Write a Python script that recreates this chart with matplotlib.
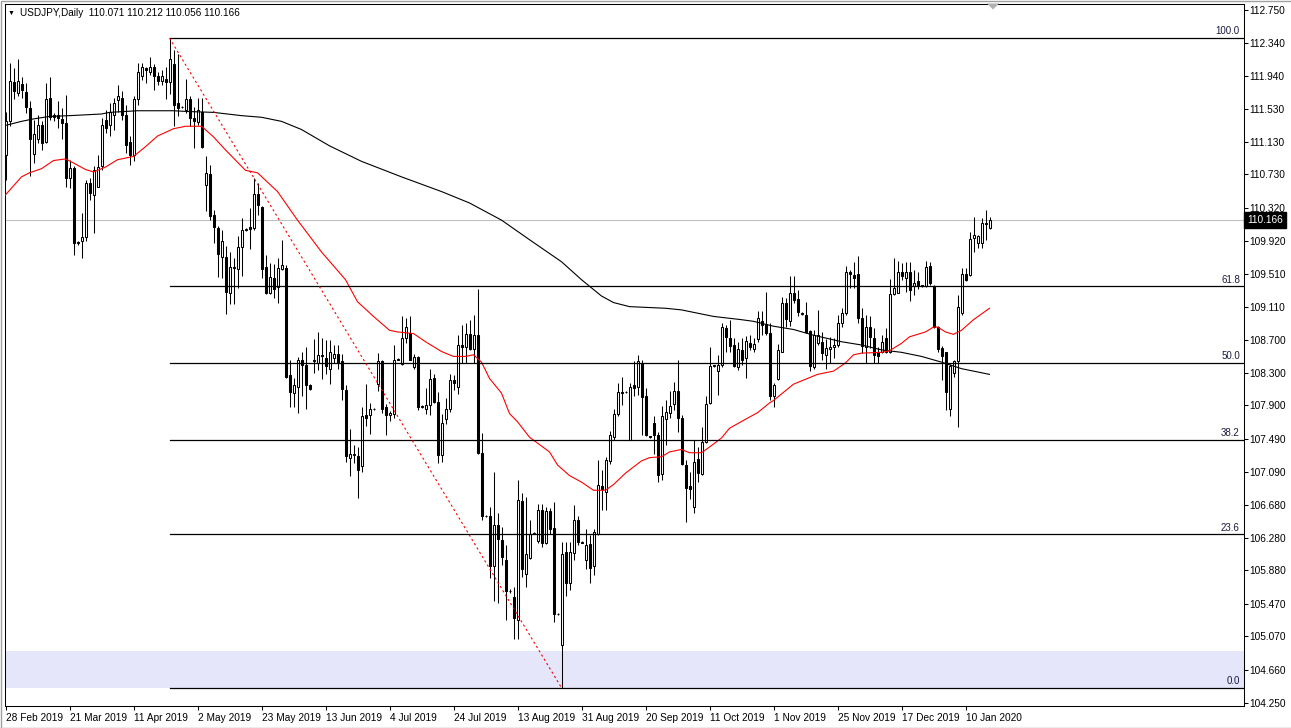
"""USDJPY daily candlestick chart, MT4 style, with fib retracement and two MAs."""
import matplotlib
matplotlib.use("Agg")
import matplotlib.pyplot as plt
import matplotlib.transforms as mtransforms
from matplotlib.patches import Polygon, Rectangle
import numpy as np

# ── Data ──────────────────────────────────────────────────────────
opens = [
    110.97, 111.38, 111.86, 111.73, 111.84, 111.74, 111.54, 110.98, 111.16, 111.33,
    111.13, 111.67, 111.46, 111.46, 111.41, 111.36, 110.69, 110.81, 109.89, 109.91,
    109.96, 110.62, 110.48, 110.58, 110.83, 111.40, 111.33, 111.46, 111.64, 111.67,
    111.46, 111.13, 110.97, 111.65, 111.94, 112.03, 111.99, 112.05, 111.94, 111.87,
    111.90, 111.86, 112.08, 111.60, 111.55, 111.52, 111.65, 111.42, 111.37, 111.50,
    110.60, 110.73, 110.23, 110.07, 109.72, 109.72, 109.28, 109.60, 109.57, 109.84,
    110.05, 110.09, 110.07, 110.49, 110.33, 109.59, 109.28, 109.46, 109.35, 109.57,
    109.58, 108.27, 108.05, 108.13, 108.45, 108.39, 108.15, 108.46, 108.42, 108.52,
    108.48, 108.34, 108.48, 108.53, 108.44, 108.09, 107.26, 107.29, 107.28, 107.16,
    107.78, 107.78, 107.85, 108.16, 108.44, 107.88, 107.78, 107.80, 108.46, 108.41,
    108.72, 108.79, 108.37, 108.49, 107.88, 107.86, 107.90, 108.23, 107.94, 107.29,
    107.73, 107.85, 108.21, 108.12, 108.64, 108.62, 108.78, 108.59, 108.76, 107.32,
    106.54, 106.54, 105.93, 106.44, 106.25, 106.00, 105.62, 105.55, 105.27, 106.73,
    105.84, 106.03, 106.33, 106.24, 106.62, 106.21, 106.61, 106.40, 105.35, 104.97,
    106.10, 105.72, 106.09, 106.50, 106.23, 106.01, 106.20, 105.93, 106.32, 106.91,
    106.84, 107.22, 107.51, 107.79, 108.07, 108.06, 107.47, 108.15, 108.13, 108.42,
    108.01, 107.52, 107.69, 107.54, 107.06, 107.73, 107.81, 107.92, 108.08, 107.74,
    107.17, 106.91, 106.65, 107.24, 107.06, 107.45, 107.93, 108.38, 108.32, 108.39,
    108.85, 108.73, 108.64, 108.37, 108.58, 108.48, 108.67, 108.59, 108.71, 108.94,
    108.90, 108.79, 108.01, 108.22, 108.56, 109.16, 108.94, 109.28, 109.20, 109.03,
    109.01, 108.81, 108.37, 108.67, 108.68, 108.52, 108.59, 108.62, 108.64, 108.91,
    109.03, 109.53, 109.50, 109.51, 108.97, 108.62, 108.86, 108.73, 108.55, 108.56,
    108.72, 108.56, 109.27, 109.28, 109.53, 109.46, 109.54, 109.36, 109.42, 109.36,
    109.36, 109.61, 109.36, 108.86, 108.60, 108.55, 107.85, 108.30, 108.44, 109.03,
    109.51, 109.50, 109.95, 109.89, 109.89, 110.13, 110.071,
]
highs = [
    111.50, 112.09, 112.03, 112.15, 111.92, 111.85, 111.63, 111.40, 111.46, 111.38,
    111.85, 111.92, 111.48, 111.63, 111.54, 111.70, 110.91, 110.83, 109.92, 110.26,
    110.66, 110.69, 110.83, 110.97, 111.42, 111.52, 111.61, 111.67, 111.83, 111.75,
    111.58, 111.20, 111.69, 112.10, 112.10, 112.05, 112.17, 112.08, 111.99, 112.01,
    112.04, 112.40, 112.26, 112.20, 111.57, 111.90, 111.69, 111.56, 111.67, 111.67,
    110.96, 110.85, 110.30, 110.10, 110.05, 109.85, 109.78, 109.70, 109.98, 110.19,
    110.07, 110.32, 110.69, 110.62, 110.34, 109.74, 109.64, 109.63, 109.70, 109.93,
    109.62, 108.45, 108.24, 108.49, 108.56, 108.62, 108.16, 108.71, 108.80, 108.72,
    108.70, 108.70, 108.64, 108.64, 108.53, 108.15, 107.61, 107.41, 107.39, 107.88,
    108.16, 107.93, 107.87, 108.54, 108.45, 107.92, 107.83, 108.64, 108.48, 109.00,
    108.97, 109.00, 108.53, 108.50, 107.90, 108.11, 108.35, 108.28, 108.07, 107.80,
    107.99, 108.28, 108.27, 108.76, 108.89, 108.91, 108.95, 109.01, 109.32, 107.56,
    106.56, 106.66, 107.09, 106.58, 106.41, 106.19, 105.65, 105.68, 106.98, 106.83,
    106.78, 106.49, 106.35, 106.69, 106.69, 106.66, 106.64, 106.72, 105.36, 106.23,
    106.23, 106.23, 106.68, 106.54, 106.24, 106.39, 106.31, 106.39, 107.23, 107.11,
    107.27, 107.59, 107.85, 108.18, 108.25, 108.08, 108.17, 108.44, 108.52, 108.46,
    108.11, 107.53, 107.77, 107.58, 107.89, 107.96, 108.08, 108.19, 108.46, 107.78,
    107.23, 107.09, 107.47, 107.39, 107.64, 108.01, 108.62, 108.40, 108.52, 108.91,
    108.89, 108.95, 108.72, 108.68, 108.72, 108.75, 108.76, 108.72, 109.06, 109.06,
    109.29, 108.91, 108.17, 108.65, 109.23, 109.21, 109.49, 109.49, 109.31, 109.04,
    109.17, 108.82, 108.82, 109.07, 108.80, 108.71, 108.74, 108.73, 109.01, 109.09,
    109.61, 109.56, 109.66, 109.73, 109.09, 109.01, 108.99, 108.85, 108.62, 108.76,
    108.85, 109.45, 109.70, 109.67, 109.64, 109.66, 109.66, 109.56, 109.53, 109.38,
    109.67, 109.66, 109.37, 108.87, 108.63, 108.56, 108.41, 108.46, 109.25, 109.58,
    109.58, 110.02, 110.21, 109.99, 110.19, 110.30, 110.212,
]
lows = [
    110.66, 111.32, 111.65, 111.69, 111.67, 111.48, 110.71, 110.87, 111.11, 111.03,
    111.11, 111.40, 111.38, 111.30, 111.16, 110.58, 110.56, 109.74, 109.87, 109.70,
    109.91, 110.42, 110.01, 110.57, 110.79, 111.24, 111.20, 111.28, 111.50, 111.40,
    110.99, 110.85, 110.89, 111.58, 111.89, 111.85, 111.95, 111.76, 111.83, 111.83,
    111.65, 111.71, 111.32, 111.44, 111.54, 111.48, 111.32, 111.05, 111.34, 111.05,
    110.28, 110.17, 109.89, 109.47, 109.46, 109.02, 109.14, 109.14, 109.34, 109.49,
    110.04, 109.81, 110.05, 110.23, 109.46, 109.27, 109.27, 109.21, 109.15, 109.56,
    108.23, 107.88, 107.88, 107.81, 108.01, 107.86, 108.09, 108.30, 108.33, 108.22,
    108.28, 108.16, 108.42, 108.34, 107.96, 107.21, 107.03, 107.20, 106.77, 107.09,
    107.65, 107.55, 107.84, 108.08, 107.81, 107.54, 107.71, 107.75, 108.45, 108.39,
    108.66, 108.46, 108.34, 107.84, 107.87, 107.80, 107.78, 107.93, 107.20, 107.21,
    107.67, 107.82, 108.09, 108.04, 108.42, 108.42, 108.58, 108.42, 107.31, 106.50,
    106.53, 105.78, 105.50, 105.48, 105.94, 105.27, 105.60, 105.04, 105.04, 105.80,
    105.68, 106.02, 106.32, 106.21, 106.16, 106.20, 106.33, 105.25, 105.33, 104.44,
    105.57, 105.64, 106.00, 106.19, 106.21, 105.89, 105.72, 105.82, 106.31, 106.62,
    106.62, 107.18, 107.48, 107.77, 107.90, 108.05, 107.47, 108.01, 108.03, 107.54,
    107.52, 107.50, 107.31, 106.96, 106.98, 107.41, 107.74, 107.84, 107.58, 107.17,
    106.47, 106.75, 106.58, 106.96, 107.05, 107.44, 107.92, 108.37, 108.03, 108.37,
    108.56, 108.56, 108.37, 108.33, 108.39, 108.24, 108.58, 108.56, 108.68, 108.76,
    108.76, 107.96, 107.88, 108.21, 108.55, 108.86, 108.87, 109.15, 108.99, 109.01,
    108.79, 108.32, 108.34, 108.64, 108.46, 108.35, 108.42, 108.48, 108.62, 108.86,
    109.01, 109.34, 109.34, 108.91, 108.54, 108.42, 108.60, 108.42, 108.42, 108.54,
    108.54, 108.54, 109.25, 109.28, 109.44, 109.29, 109.18, 109.25, 109.32, 109.35,
    109.35, 109.38, 108.85, 108.55, 108.21, 107.84, 107.77, 108.25, 107.64, 109.01,
    109.42, 109.48, 109.78, 109.83, 109.83, 109.93, 110.056,
]
closes = [
    111.38, 111.87, 111.75, 111.87, 111.77, 111.56, 111.16, 111.22, 111.33, 111.11,
    111.65, 111.43, 111.43, 111.42, 111.36, 110.69, 110.81, 109.89, 109.90, 109.96,
    110.62, 110.50, 110.79, 110.82, 111.34, 111.30, 111.49, 111.61, 111.69, 111.46,
    111.09, 110.97, 111.65, 111.99, 112.04, 112.01, 112.04, 111.93, 111.88, 111.94,
    111.86, 112.15, 111.58, 111.54, 111.56, 111.65, 111.42, 111.38, 111.52, 111.07,
    110.75, 110.22, 110.09, 109.76, 109.91, 109.29, 109.60, 109.58, 109.84, 110.05,
    110.06, 110.06, 110.49, 110.35, 109.57, 109.28, 109.47, 109.32, 109.58, 109.62,
    108.25, 108.06, 108.15, 108.46, 108.39, 108.15, 108.10, 108.44, 108.52, 108.50,
    108.38, 108.56, 108.53, 108.42, 108.10, 107.28, 107.30, 107.30, 107.11, 107.77,
    107.75, 107.85, 107.86, 108.44, 107.85, 107.78, 107.81, 108.46, 108.47, 108.72,
    108.86, 108.46, 108.49, 107.88, 107.89, 107.90, 108.22, 107.94, 107.29, 107.68,
    107.86, 108.21, 108.17, 108.64, 108.62, 108.78, 108.59, 108.76, 107.32, 106.55,
    106.55, 105.93, 106.44, 106.26, 106.04, 105.62, 105.63, 105.29, 106.74, 105.89,
    106.08, 106.33, 106.34, 106.62, 106.21, 106.60, 106.39, 105.35, 105.34, 106.08,
    105.72, 106.10, 106.50, 106.23, 106.22, 106.19, 105.91, 106.35, 106.92, 106.88,
    107.23, 107.54, 107.80, 108.07, 108.05, 108.07, 108.13, 108.11, 108.44, 108.00,
    107.54, 107.51, 107.54, 107.05, 107.77, 107.82, 107.89, 108.08, 107.74, 107.18,
    106.89, 106.88, 107.21, 107.07, 107.45, 107.92, 108.38, 108.39, 108.39, 108.86,
    108.74, 108.63, 108.38, 108.59, 108.46, 108.69, 108.62, 108.65, 108.97, 108.89,
    108.79, 108.01, 108.15, 108.58, 109.16, 108.96, 109.28, 109.19, 109.04, 109.02,
    108.80, 108.38, 108.76, 108.76, 108.54, 108.60, 108.61, 108.64, 108.91, 109.03,
    109.53, 109.51, 109.46, 108.97, 108.63, 108.86, 108.74, 108.52, 108.51, 108.68,
    108.56, 109.27, 109.34, 109.53, 109.48, 109.54, 109.31, 109.40, 109.36, 109.37,
    109.59, 109.40, 108.86, 108.59, 108.51, 108.06, 108.38, 108.44, 109.10, 109.51,
    109.44, 109.94, 109.99, 109.97, 110.13, 110.12, 110.166,
]

# moving averages, read at sample bars
red_ma_bar = [0, 4, 6, 9, 12, 15, 17, 20, 22, 25, 28, 32, 35, 38, 42, 45, 49, 52, 55, 60,
              63, 68, 73, 79, 85, 88, 92, 96, 98, 102, 105, 109, 112, 115, 117, 119, 121,
              124, 126, 128, 131, 136, 138, 141, 144, 147, 150, 152, 155, 159, 161, 164,
              166, 169, 171, 174, 176, 179, 181, 185, 188, 191, 192, 197, 201, 203, 207,
              210, 212, 214, 219, 221, 224, 226, 230, 232, 233, 235, 237, 239, 242, 246]
red_ma_val = [110.48, 110.70, 110.75, 110.80, 110.90, 110.92, 110.87, 110.79, 110.76, 110.82,
              110.91, 110.95, 111.07, 111.20, 111.29, 111.32, 111.32, 111.19, 111.03, 110.78,
              110.75, 110.52, 110.17, 109.78, 109.44, 109.17, 108.99, 108.82, 108.80, 108.78,
              108.68, 108.56, 108.50, 108.50, 108.52, 108.43, 108.23, 108.05, 107.80, 107.70,
              107.51, 107.33, 107.17, 107.04, 106.96, 106.86, 106.86, 106.93, 107.07, 107.22,
              107.26, 107.27, 107.33, 107.36, 107.32, 107.32, 107.39, 107.50, 107.62, 107.73,
              107.81, 107.93, 107.96, 108.16, 108.24, 108.28, 108.32, 108.42, 108.52, 108.54,
              108.55, 108.57, 108.66, 108.74, 108.80, 108.86, 108.86, 108.80, 108.77, 108.82,
              108.95, 109.09]
black_ma_bar = [0, 4, 7, 11, 16, 20, 24, 26, 33, 38, 42, 46, 52, 59, 64, 69, 74, 81, 89, 99,
                109, 116, 124, 131, 139, 144, 149, 152, 156, 165, 169, 173, 177, 184, 187,
                192, 197, 202, 209, 214, 219, 224, 229, 234, 239, 246]
black_ma_val = [111.33, 111.38, 111.41, 111.44, 111.45, 111.46, 111.47, 111.49, 111.51, 111.51,
                111.51, 111.50, 111.49, 111.45, 111.43, 111.38, 111.28, 111.08, 110.89, 110.70,
                110.52, 110.38, 110.17, 109.93, 109.66, 109.44, 109.24, 109.16, 109.11, 109.09,
                109.07, 109.03, 108.99, 108.95, 108.93, 108.87, 108.83, 108.76, 108.68, 108.64,
                108.58, 108.55, 108.50, 108.43, 108.35, 108.28]

date_labels = ["28 Feb 2019", "21 Mar 2019", "11 Apr 2019", "2 May 2019", "23 May 2019",
               "13 Jun 2019", "4 Jul 2019", "24 Jul 2019", "13 Aug 2019", "31 Aug 2019",
               "20 Sep 2019", "11 Oct 2019", "1 Nov 2019", "25 Nov 2019", "17 Dec 2019",
               "10 Jan 2020"]
price_ticks = [112.750, 112.340, 111.940, 111.530, 111.130, 110.730, 110.320, 109.920,
               109.510, 109.110, 108.700, 108.300, 107.900, 107.490, 107.090, 106.680,
               106.280, 105.880, 105.470, 105.070, 104.660, 104.250]

fib_ratios = [0.0, 23.6, 38.2, 50.0, 61.8, 100.0]
FIB_HIGH, FIB_LOW = 112.40, 104.44
FIB_HIGH_BAR, FIB_LOW_BAR = 41, 139
zone_low, zone_high = 104.44, 104.885
last_price = 110.166
header = "USDJPY,Daily  110.071 110.212 110.056 110.166"

# ── Layout (pixel geometry of the MT4 window) ─────────────────────
W, H = 1291, 728
L, R, T, B = 4.5, 1243.5, 3.5, 705.5
BAR_PX = 4.0
X0, X1 = -0.25, (R - L) / BAR_PX - 0.25
Y_TOP, Y_BOT = 112.824, 104.223

plt.rcParams["font.family"] = ["Liberation Sans", "DejaVu Sans"]

fig = plt.figure(figsize=(W / 100, H / 100), dpi=100, facecolor="white")
ax = fig.add_axes([L / W, 1 - B / H, (R - L) / W, (B - T) / H])
ax.set_xlim(X0, X1)
ax.set_ylim(Y_BOT, Y_TOP)

o = np.array(opens); h = np.array(highs); l = np.array(lows); c = np.array(closes)
x = np.arange(len(o))
up = c >= o

# zone + bid line
ax.axhspan(zone_low, zone_high, color="#e6e6fa", lw=0, zorder=0)
ax.axhline(last_price, color="#c0c0c0", lw=0.8, zorder=1)

# candles
ax.vlines(x, l, h, color="black", lw=0.75, zorder=3)
lo = np.minimum(o, c)
hgt = np.abs(c - o)
ax.bar(x[up], hgt[up], bottom=lo[up], width=0.5, color="white",
       edgecolor="black", linewidth=0.75, zorder=4)
ax.bar(x[~up], hgt[~up], bottom=lo[~up], width=0.5, color="black",
       edgecolor="black", linewidth=0.75, zorder=4)

# moving averages
ax.plot(black_ma_bar, black_ma_val, color="black", lw=0.8, zorder=5)
ax.plot(red_ma_bar, red_ma_val, color="#ff0000", lw=0.8, zorder=5)

# fibonacci retracement
for r in fib_ratios:
    lvl = FIB_LOW + r / 100 * (FIB_HIGH - FIB_LOW)
    ax.plot([FIB_HIGH_BAR, X1], [lvl, lvl], color="black", lw=0.9, zorder=5)
    ax.text(X1 - 0.9, lvl + 0.02, f"{r:.1f}", ha="right", va="bottom",
            fontsize=7, color="#1a1a40", zorder=6)
ax.plot([FIB_HIGH_BAR, FIB_LOW_BAR], [FIB_HIGH, FIB_LOW], color="#ff0000",
        lw=0.8, ls=(0, (2, 2.5)), zorder=5)

# axes styling
for s in ax.spines.values():
    s.set_color("black")
    s.set_linewidth(0.75)
ax.yaxis.tick_right()
ax.set_yticks(price_ticks)
ax.set_yticklabels([f"{p:.3f}" for p in price_ticks])
ax.set_xticks(range(0, 16 * len(date_labels), 16))
ax.set_xticklabels(date_labels, ha="left")
ax.tick_params(axis="both", length=2.9, width=0.75, labelsize=7.3, colors="black")
ax.tick_params(axis="y", pad=1.2)
ax.tick_params(axis="x", pad=2.5)

# current price box
trans = mtransforms.blended_transform_factory(ax.transAxes, ax.transData)
ax.text(1.0028, last_price, "110.166", transform=trans, color="white", fontsize=7.3,
        ha="left", va="center", zorder=10, clip_on=False,
        bbox=dict(boxstyle="square,pad=0.3", fc="black", ec="black"))

# header + window decorations
fig.text(8 / W, 1 - 13.5 / H, "▼", fontsize=5, va="center", ha="left")
fig.text(20 / W, 1 - 13.5 / H, header, fontsize=7.2, va="center", ha="left")
fig.patches.append(Polygon([(987 / W, 1 - 3.5 / H), (999 / W, 1 - 3.5 / H), (993 / W, 1 - 9.5 / H)],
                           closed=True, transform=fig.transFigure, fc="#b0b0b0", ec="none"))
fig.patches.append(Rectangle((0.5 / W, 0), 1, 1 - 0.5 / H, transform=fig.transFigure,
                             fill=False, ec="#a0a0a0", lw=1))

fig.savefig("out.png", dpi=100, facecolor="white")
print("Saved -> out.png")
